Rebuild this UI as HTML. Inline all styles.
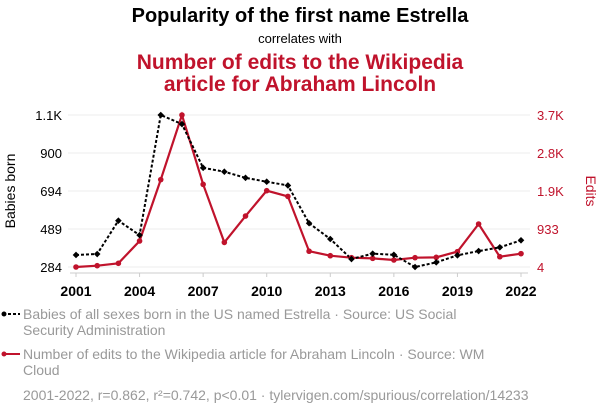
<!DOCTYPE html>
<html><head><meta charset="utf-8"><style>
body{margin:0;background:#fff;width:600px;height:414px;overflow:hidden;font-family:"Liberation Sans",Arial,sans-serif}
svg text{font-family:"Liberation Sans",Arial,sans-serif}
</style></head><body>
<svg id="c" width="600" height="414" viewBox="0 0 600 414" xmlns="http://www.w3.org/2000/svg">
<text x="300" y="22" text-anchor="middle" font-size="20" font-weight="bold" fill="#000">Popularity of the first name Estrella</text>
<text x="300" y="43" text-anchor="middle" font-size="13" fill="#000">correlates with</text>
<text x="300" y="69" text-anchor="middle" font-size="21" font-weight="bold" fill="#c0132c">Number of edits to the Wikipedia</text>
<text x="300" y="91" text-anchor="middle" font-size="21" font-weight="bold" fill="#c0132c">article for Abraham Lincoln</text>
<text transform="translate(15,191) rotate(-90)" text-anchor="middle" font-size="14" fill="#000">Babies born</text>
<text transform="translate(586,191) rotate(90)" text-anchor="middle" font-size="14" fill="#c0132c">Edits</text>
<g id="grid"></g><g id="axes"></g><g id="series"></g>
<g>
<line x1="3" y1="314" x2="20" y2="314" stroke="#000" stroke-width="2" stroke-dasharray="3,2"/>
<circle cx="4" cy="314" r="2.5" fill="#000"/>
<text x="23" y="319" font-size="14" fill="#999">Babies of all sexes born in the US named Estrella · Source: US Social</text>
<text x="23" y="335" font-size="14" fill="#999">Security Administration</text>
</g>
<g>
<line x1="3" y1="354" x2="20" y2="354" stroke="#c0132c" stroke-width="2"/>
<circle cx="4" cy="354" r="2.5" fill="#c0132c"/>
<text x="23" y="359" font-size="14" fill="#999">Number of edits to the Wikipedia article for Abraham Lincoln · Source: WM</text>
<text x="23" y="375" font-size="14" fill="#999">Cloud</text>
</g>
<text x="23" y="400" font-size="14" fill="#999">2001-2022, r=0.862, r²=0.742, p&lt;0.01 · tylervigen.com/spurious/correlation/14233</text>
</svg>
<script>
const years=[2001,2002,2003,2004,2005,2006,2007,2008,2009,2010,2011,2012,2013,2014,2015,2016,2017,2018,2019,2020,2021,2022];
const babies=[349,354,534,456,1104,1055,819,798,765,744,724,520,435,327,356,350,284,309,347,370,390,428];
const edits=[4,36,94,640,2140,3720,2025,605,1250,1870,1730,390,280,232,215,175,232,240,380,1055,255,330];
const leftTicks=[284,489,694,899,1104];
const leftTickLabels=["284","489","694","900","1.1K"];
const rightTicks=[4,933,1862,2791,3720];
const rightTickLabels=["4","933","1.9K","2.8K","3.7K"];
const xTicks=[2001,2004,2007,2010,2013,2016,2019,2022];
const NS="http://www.w3.org/2000/svg";
const x0=76,x1=521,yTop=115,yBot=267;
const xs=v=>x0+(v-2001)/(2022-2001)*(x1-x0);
const yl=v=>yBot-(v-284)/(1104-284)*(yBot-yTop);
const yr=v=>yBot-(v-4)/(3720-4)*(yBot-yTop);
function mk(t,a,p){const e=document.createElementNS(NS,t);for(const k in a)e.setAttribute(k,a[k]);p.appendChild(e);return e;}
const grid=document.getElementById('grid'),axes=document.getElementById('axes'),ser=document.getElementById('series');
leftTicks.forEach((v,i)=>{
 const g=mk('line',{x1:68,x2:530,y1:yl(v),y2:yl(v),stroke:'#eee','stroke-width':1},grid);
 
 
 const t=mk('text',{x:62,y:yl(v)+5,'text-anchor':'end','font-size':13,fill:'#000'},axes);t.textContent=leftTickLabels[i];
 
 
});
rightTicks.forEach((v,i)=>{
 const t=mk('text',{x:537,y:yr(v)+5,'text-anchor':'start','font-size':13,fill:'#c0132c'},axes);t.textContent=rightTickLabels[i];
 
 
});
const ax=mk('line',{x1:70,x2:528,y1:273,y2:273,stroke:'#ccc','stroke-width':1},axes);


xTicks.forEach(v=>{
 mk('line',{x1:xs(v),x2:xs(v),y1:273,y2:277,stroke:'#ccc'},axes);
 const t=mk('text',{x:xs(v),y:296,'text-anchor':'middle','font-size':14,'font-weight':'bold',fill:'#000'},axes);t.textContent=v;
 
 
});
const pe=mk('polyline',{points:years.map((y,i)=>xs(y)+','+yr(edits[i])).join(' '),fill:'none',stroke:'#c0132c','stroke-width':2.2},ser);


const pb=mk('polyline',{points:years.map((y,i)=>xs(y)+','+yl(babies[i])).join(' '),fill:'none',stroke:'#000','stroke-width':2,'stroke-dasharray':'3,2'},ser);


years.forEach((y,i)=>{
 const c=mk('circle',{cx:xs(y),cy:yr(edits[i]),r:2.8,fill:'#c0132c'},ser);
 
 
 const cx=xs(y),cy=yl(babies[i]);
 const d=mk('polygon',{points:`${cx},${cy-3.3} ${cx+3.3},${cy} ${cx},${cy+3.3} ${cx-3.3},${cy}`,fill:'#000'},ser);
 
 
});
</script>
</body></html>
